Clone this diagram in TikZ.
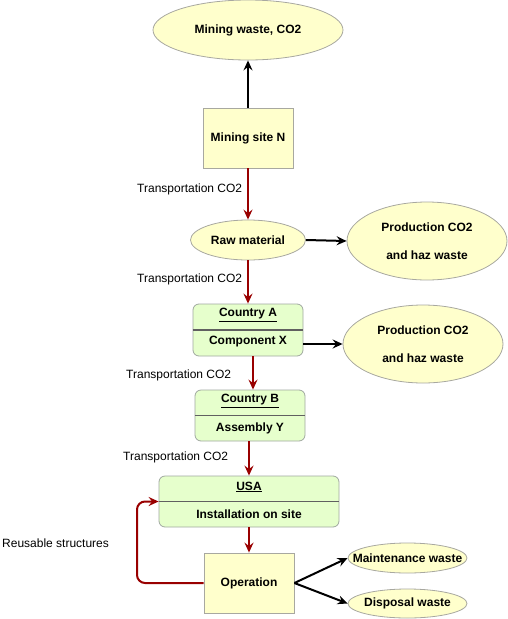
\documentclass[tikz,border=0pt]{standalone}
\usepackage{fontspec}
\setmainfont{Liberation Sans}
\usetikzlibrary{shapes.geometric,arrows.meta}
\definecolor{yfill}{HTML}{FFFFCC}
\definecolor{ybord}{HTML}{A8A8A0}
\definecolor{gfill}{HTML}{E6FFCC}
\definecolor{gbord}{HTML}{A0A8A0}
\definecolor{divcol}{HTML}{606060}
\definecolor{darkred}{HTML}{990000}
\begin{document}
\begin{tikzpicture}[x=1pt,y=-1pt,
  yell/.style={draw=ybord, fill=yfill, line width=0.8pt, inner sep=0pt, align=center,
    font=\bfseries\fontsize{12}{14}\selectfont},
  ell/.style={yell, ellipse},
  rbox/.style={yell, rectangle},
  gbox/.style={draw=gbord, fill=gfill, line width=0.8pt, rounded corners=6pt, inner sep=0pt},
  btxt/.style={inner sep=0pt, font=\bfseries\fontsize{12}{14}\selectfont},
  divider/.style={draw=divcol, line width=1.2pt},
  redarr/.style={draw=darkred, line width=2pt, -{Stealth[length=10pt,width=9pt,inset=3.5pt]}},
  blkarr/.style={draw=black, line width=2pt, -{Stealth[length=10pt,width=9pt,inset=3.5pt]}},
  lbl/.style={anchor=west, inner sep=0pt, font=\fontsize{12}{14}\selectfont}
]
\useasboundingbox (0,0) rectangle (508,619);

% top
\node[ell, minimum width=190pt, minimum height=60pt] (mw) at (248,30) {Mining waste, CO2};
\node[rbox, minimum width=90pt, minimum height=60pt] (ms) at (248,138) {Mining site N};
\node[ell, minimum width=115pt, minimum height=40pt] (raw) at (248,240) {Raw material};
\node[ell, minimum width=160pt, minimum height=78pt, font=\bfseries\fontsize{12}{28}\selectfont] (p1) at (427,241) {Production CO2\\and haz waste};

% Country A
\node[gbox, minimum width=110pt, minimum height=52pt] (ca) at (248,330) {};
\draw[divider] (ca.west) -- (ca.east);
\node[btxt] (cat) at (248,315) {\underline{Country A}};
\node[btxt] (cab) at (248,342) {Component X};
\node[ell, minimum width=160pt, minimum height=78pt, font=\bfseries\fontsize{12}{28}\selectfont] (p2) at (423,344) {Production CO2\\and haz waste};

% Country B
\node[gbox, minimum width=110pt, minimum height=51pt] (cb) at (250,415.5) {};
\draw[divider] (cb.west) -- (cb.east);
\node[btxt] (cbt) at (250,401) {\underline{Country B}};
\node[btxt] (cbb) at (250,428) {Assembly Y};

% USA
\node[gbox, minimum width=180pt, minimum height=51pt] (usa) at (249,501.5) {};
\draw[divider] (usa.west) -- (usa.east);
\node[btxt] (usat) at (249,487) {\underline{USA}};
\node[btxt] (usab) at (249,514) {Installation on site};

% Operation
\node[rbox, minimum width=90pt, minimum height=60pt] (op) at (249,583) {Operation};
\node[ell, inner xsep=-16pt, minimum width=119pt, minimum height=30pt] (mt) at (407.5,558) {Maintenance waste};
\node[ell, inner xsep=-16pt, minimum width=119pt, minimum height=29pt] (dw) at (407.5,603.5) {Disposal waste};

% labels
\node[lbl] (l1) at (137,189) {Transportation CO2};
\node[lbl] (l2) at (137,279) {Transportation CO2};
\node[lbl] (l3) at (126,375) {Transportation CO2};
\node[lbl] (l4) at (123,457) {Transportation CO2};
\node[lbl] (l5) at (2,543) {Reusable structures};

% black arrows
\draw[blkarr] (ms.north) -- (mw.south);
\draw[blkarr] (raw.east) -- (p1.west);
\draw[blkarr] (ca.east |- p2.west) -- (p2.west);
\draw[blkarr] (op.east) -- (mt.west);
\draw[blkarr] (op.east) -- (dw.west);

% red arrows
\draw[redarr] (ms.south) -- (raw.north);
\draw[redarr] (raw.south) -- (ca.north);
\coordinate (abx) at (253,0);
\draw[redarr] (ca.south -| abx) -- (cb.north -| abx);
\draw[redarr] (cb.south -| usa.north) -- (usa.north);
\draw[redarr] (usa.south) -- (op.north);
\draw[redarr, rounded corners=8pt] (op.west) -- (137,583) -- (137,501.5) -- (usa.west);
\end{tikzpicture}
\end{document}
